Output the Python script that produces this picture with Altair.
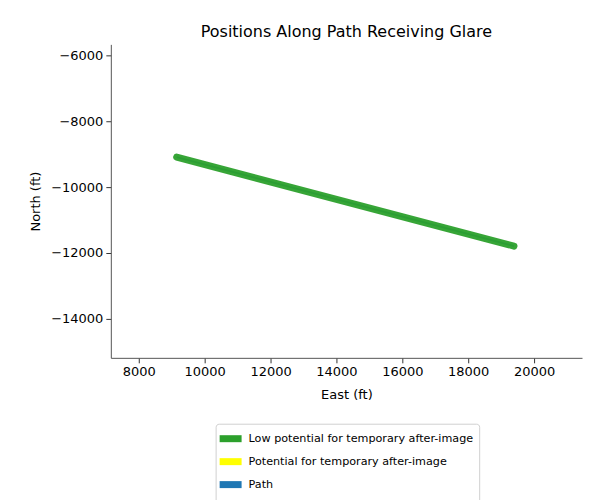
import altair as alt
import pandas as pd

# Data
path_east = [9150, 19390]
path_north = [-9090, -11790]
glare_east = [9150, 19390]
glare_north = [-9090, -11790]

categories = ["Low potential for temporary after-image",
              "Potential for temporary after-image",
              "Path"]
colors = ["#2ca02c", "#ffff00", "#1f77b4"]

x_ticks = [8000, 10000, 12000, 14000, 16000, 18000, 20000]
y_ticks = [-6000, -8000, -10000, -12000, -14000]

path_df = pd.DataFrame({"east": path_east, "north": path_north, "kind": "Path", "order": [0, 1]})
glare_df = pd.DataFrame({"east": glare_east, "north": glare_north,
                         "kind": categories[0], "order": [0, 1]})

FONT = "DejaVu Sans"
minus = "replace(format(datum.value, 'd'), '-', '\u2212')"

x_enc = alt.X("east:Q", title="East (ft)",
              scale=alt.Scale(domain=[7152, 21455], nice=False, zero=False),
              axis=alt.Axis(values=x_ticks, labelExpr=minus))
y_enc = alt.Y("north:Q", title="North (ft)",
              scale=alt.Scale(domain=[-15182, -5667], nice=False, zero=False),
              axis=alt.Axis(values=y_ticks, labelExpr=minus))
color_enc = alt.Color("kind:N", title=None,
                      scale=alt.Scale(domain=categories, range=colors),
                      legend=alt.Legend(orient="none", legendX=105, legendY=380,
                                        direction="vertical",
                                        symbolType="M-2,0L2,0",
                                        symbolSize=121, symbolStrokeWidth=7,
                                        labelFont=FONT, labelFontSize=11.2,
                                        labelLimit=0, labelOffset=9,
                                        labelColor="#000000",
                                        strokeColor="#d0d0d0", cornerRadius=3,
                                        padding=6, rowPadding=-12, fillColor="white",
                                        symbolOpacity=1))

path_line = alt.Chart(path_df).mark_line(strokeWidth=2).encode(
    x=x_enc, y=y_enc, color=color_enc, order="order:Q")
glare_line = alt.Chart(glare_df).mark_line(strokeWidth=7, strokeCap="round", opacity=0.95).encode(
    x=x_enc, y=y_enc, color=color_enc, order="order:Q")

chart = alt.layer(path_line, glare_line).properties(
    width=472, height=314,
    padding={"left": 21, "top": 16, "right": 5, "bottom": 5},
    title=alt.TitleParams("Positions Along Path Receiving Glare", font=FONT,
                          fontSize=16, fontWeight="normal", color="#000000", offset=4),
).configure_view(stroke=None).configure_axis(
    grid=False, domainColor="#555555", tickColor="#333333", tickSize=5,
    labelFont=FONT, labelFontSize=13, labelColor="#000000",
    titleFont=FONT, titleFontSize=13, titleFontWeight="normal", titleColor="#000000",
    labelPadding=3,
).configure_axisY(titlePadding=8).configure_axisX(titlePadding=10)

chart.save("out.html", embed_options={"renderer": "svg", "actions": False})
